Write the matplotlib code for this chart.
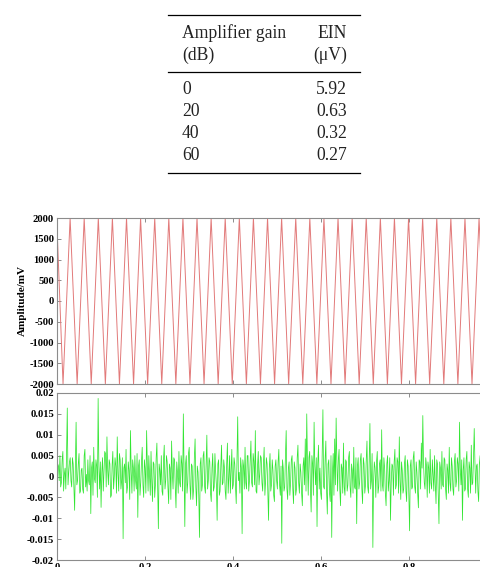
import numpy as np
import matplotlib
matplotlib.use("Agg")
import matplotlib.pyplot as plt
from matplotlib.lines import Line2D

# ---------------- data ----------------
table_header_1 = ["Amplifier gain", "EIN"]
table_header_2 = ["(dB)", "(\u03bcV)"]
gain_db = ["0", "20", "40", "60"]
ein_uv = ["5.92", "0.63", "0.32", "0.27"]

# top panel: sine reference signal, extremes (s, mV)
peak_times = [0.0298, 0.0618, 0.0939, 0.1259, 0.1580, 0.1900, 0.2221, 0.2541,
              0.2862, 0.3182, 0.3503, 0.3823, 0.4144, 0.4464, 0.4785, 0.5105,
              0.5426, 0.5746, 0.6067, 0.6387, 0.6708, 0.7028, 0.7349, 0.7669,
              0.7990, 0.8310, 0.8631, 0.8951, 0.9272, 0.9592, 0.9913]
trough_times = [0.0137, 0.0458, 0.0778, 0.1099, 0.1419, 0.1740, 0.2060, 0.2381,
                0.2701, 0.3022, 0.3342, 0.3663, 0.3983, 0.4304, 0.4624, 0.4945,
                0.5265, 0.5586, 0.5906, 0.6227, 0.6547, 0.6868, 0.7188, 0.7509,
                0.7829, 0.8150, 0.8470, 0.8791, 0.9111, 0.9432, 0.9752]
start_value = 1800.0
amplitude = 2000.0

# bottom panel: noise signal, values in units of 1e-3
# even samples
noise_milli_a = [
    -6.0, 2.5, 5.0, -1.5, 6.0, 0.5, -3.0, 16.4, 1.0, 4.5,
    -2.5, 3.0, -8.1, 13.0, -1.0, 5.5, -3.5, 2.0, -4.0, 6.5,
    0.5, 4.0, -2.0, -8.9, 3.5, 7.0, -1.5, 2.5, 18.7, -3.0,
    -7.4, 4.5, 1.0, 5.5, 9.5, -2.0, 3.0, -4.5, 6.0, 0.0,
    2.5, 9.5, -3.5, 4.0, -1.0, -14.9, 3.0, 6.5, -2.5, 1.5,
    11.0, -4.0, 2.0, 5.0, -3.0, -9.8, 4.0, -1.5, 7.0, -5.0,
    2.0, 11.0, -3.5, 0.5, 6.0, -6.0, 3.0, -2.0, 8.0, -12.5,
    1.5, 5.0, -4.5, 7.5, -1.0, 3.5, -6.5, 2.0, 8.5, -3.0,
    4.0, -7.5, 1.0, 6.0, -2.5, 3.0, 15.0, -12.0, 5.0, -1.5,
    7.0, -5.5, 2.5, -3.0, 9.0, -7.0, 1.0, -14.6, 4.5, -2.0,
    6.0, -4.0, 9.9, -1.0, 3.5, -6.0, 5.5, -2.5, 1.0, -10.5,
    4.0, -3.5, 7.5, -1.5, 2.0, -5.5, 8.0, 0.0, -4.0, 6.5,
    -2.0, 3.0, -6.5, 14.3, 1.0, 4.5, -13.7, 2.5, 7.0, -3.0,
    5.0, -1.0, 8.5, -2.5, 3.5, 11.0, -4.0, 6.0, 0.5, 4.5,
    -3.5, 7.0, -1.0, 3.0, -10.5, 5.5, -2.0, 1.5, -6.0, 4.0,
    -3.0, 6.5, -4.5, -16.0, 2.0, -2.5, 11.0, -5.5, 3.5, -1.5,
    5.0, -6.5, 2.0, -3.0, 7.5, -4.0, 1.0, -7.0, 4.5, 9.0,
    15.0, -4.5, 6.0, -8.5, 3.0, 13.0, -2.0, -12.0, 7.5, 2.0,
    -5.5, 16.0, -3.0, 8.5, -9.0, 4.0, -6.0, -14.6, 5.5, 9.0,
    14.0, -3.5, 6.5, -7.0, 2.0, 8.0, -4.5, 3.5, -2.0, 6.0,
    -5.0, 1.5, 7.0, -3.0, -11.3, 4.5, -1.5, 5.5, -6.5, 3.0,
    -2.0, 8.5, -4.0, 12.7, -1.0, -17.0, 3.5, -5.0, 6.0, -2.5,
    4.0, 11.2, -3.5, 2.0, -7.0, 5.0, -1.0, -10.5, 3.0, -4.5,
    6.5, -2.0, 3.5, 9.5, -5.5, 1.5, -3.0, 5.0, -6.0, 2.5,
    -13.0, 4.0, -2.5, 6.0, -4.0, 1.0, -7.5, 3.5, 8.0, 14.6,
    -1.5, 4.5, -5.0, 2.0, 6.5, -3.0, 0.5, 5.0, -6.5, 3.0,
    -11.3, 2.0, 6.0, -2.5, 4.0, -5.5, 1.5, 7.0, -3.5, 2.5,
    -4.5, 5.5, -1.0, 3.0, 13.0, -2.0, -10.5, 4.5, -3.0, 6.0,
    -5.0, 2.0, 7.5, -1.5, 11.5, -4.0, 3.0, -6.0, 5.0, -2.0,
    4.0, -7.0, 1.5, 6.0, -3.5, 2.5, -5.0, 4.5, -1.0, 3.0,
]
# odd samples
noise_milli_b = [
    3.0, -1.0, -2.5, 4.0, -3.5, 2.0, 5.5, -2.0, 3.5, -1.0,
    4.5, -3.0, 2.5, -2.0, 3.0, -4.0, 1.5, -3.0, 5.0, -2.5,
    -3.5, -1.0, 5.0, 2.0, -4.5, -0.5, 4.0, -5.0, 2.5, 3.5,
    1.0, -3.5, 6.0, -2.5, 1.5, 4.0, -5.0, 2.5, -3.0, 4.5,
    -4.0, 1.0, 5.5, -3.0, 4.5, 2.0, -1.5, -4.0, 3.5, -5.5,
    1.5, 4.0, -3.5, -1.0, 5.5, 2.5, -4.5, 3.5, -2.0, 4.0,
    -4.0, 2.5, 5.0, -4.5, -1.0, 3.5, -5.0, 4.5, -2.5, 3.0,
    -2.0, -3.5, 4.0, -3.0, 5.0, -2.5, 3.0, -5.5, 1.0, 4.5,
    -2.5, 3.5, -4.0, -1.5, 5.0, -3.5, 1.0, 3.0, -4.0, 5.5,
    -2.0, 3.0, -5.5, 4.5, -2.5, 2.5, -4.5, 3.0, -3.5, 5.0,
    -2.5, 3.5, -3.0, 4.5, -4.0, 2.0, -3.5, 5.5, -2.0, 3.0,
    -4.5, 2.5, -2.0, 4.0, -3.5, 3.0, -4.0, 5.0, 1.5, -3.0,
    4.5, -2.5, 3.5, -1.0, -4.0, 2.0, 4.0, -3.0, -1.5, 5.0,
    -3.5, 4.0, -1.5, 5.5, -2.0, -3.5, 2.5, -2.0, 5.0, -1.5,
    3.0, -4.5, 4.5, -3.5, 2.0, -3.5, 4.0, -4.5, 2.5, -1.0,
    3.5, -2.0, 2.5, 4.0, -3.5, 5.0, -3.0, 2.0, -4.5, 4.0,
    -3.0, 3.5, -4.5, 4.5, -1.5, 3.0, -4.0, 2.5, -2.0, -3.5,
    3.0, 4.5, -3.0, 5.0, -4.5, 2.5, 4.5, 3.0, -3.0, -4.0,
    5.5, -2.5, 4.0, -3.5, 3.0, -4.0, 5.0, 1.0, -4.5, -2.0,
    3.5, 4.0, -3.0, 3.0, -4.0, -2.5, 4.0, -3.5, 4.5, -2.5,
    3.0, -4.0, -2.5, 4.5, 2.5, -3.0, 4.0, -3.0, 4.5, -4.0,
    4.0, -2.5, 3.5, -3.0, 5.5, -1.0, 2.0, 3.5, -4.0, 3.0,
    -3.5, -2.0, 4.5, -4.0, 3.0, -3.5, 4.5, -1.5, 2.5, 3.5,
    -3.0, 4.5, -4.0, -1.0, 3.5, -4.0, 3.0, -3.5, 4.0, -4.5,
    2.5, -3.0, 4.5, -2.5, 3.5, -4.0, 4.0, -3.0, 2.0, 3.0,
    -3.0, 2.5, 3.5, -4.0, -1.5, 4.0, -3.5, -2.0, 4.0, -4.0,
    3.5, -3.0, -2.0, 4.5, -3.0, 3.0, -4.0, -1.5, 4.5, -3.0,
    3.5, -2.5, 4.5, -3.5, 2.0, 4.0, 1.5, -3.5, 4.0, -3.0,
    3.5, -4.0, -2.0, 4.5, 3.0, 2.5, -3.5, 3.0, -3.5, 4.5,
    -3.5, 3.5, -3.0, -2.0, 4.0, -3.0, 3.5, -2.5, 4.0, -1.5,
]

top_yticks = [-2000, -1500, -1000, -500, 0, 500, 1000, 1500, 2000]
bot_yticks = [-0.02, -0.015, -0.01, -0.005, 0, 0.005, 0.01, 0.015, 0.02]
bot_yticklabels = ["-0.02", "-0.015", "-0.01", "-0.005", "0", "0.005", "0.01", "0.015", "0.02"]
xticks = [0, 0.2, 0.4, 0.6, 0.8, 1.0]
xticklabels = ["0", "0.2", "0.4", "0.6", "0.8", "1"]

# ---------------- build series ----------------
ext_t = np.array([0.0] + peak_times + trough_times)
ext_v = np.array([start_value] + [amplitude] * len(peak_times) + [-amplitude] * len(trough_times))
order = np.argsort(ext_t)
sig_t, sig_v = ext_t[order], ext_v[order]

noise = np.column_stack([noise_milli_a, noise_milli_b]).ravel() * 1e-3
noise_t = np.linspace(0.0, 1.0, len(noise))

# ---------------- figure ----------------
plt.rcParams["axes.unicode_minus"] = False
W, H = 480, 567
fig = plt.figure(figsize=(W / 100, H / 100), dpi=100)

def fx(px):
    return px / W

def fy(py):
    return 1 - py / H

# table
serif = "Liberation Serif"
tcol = "#222222"
tsize = 12.7
for y in (15, 72, 173):
    fig.add_artist(Line2D([fx(168), fx(360)], [fy(y), fy(y)], color="black", lw=0.9))
fig.text(fx(182), fy(33), table_header_1[0], family=serif, size=tsize, color=tcol, ha="left", va="center")
fig.text(fx(347), fy(33), table_header_1[1], family=serif, size=tsize, color=tcol, ha="right", va="center")
fig.text(fx(182), fy(55), table_header_2[0], family=serif, size=tsize, color=tcol, ha="left", va="center")
fig.text(fx(347), fy(55), table_header_2[1], family=serif, size=tsize, color=tcol, ha="right", va="center")
row_y = [90, 112, 134, 156]
for g, e, y in zip(gain_db, ein_uv, row_y):
    fig.text(fx(182), fy(y), g, family=serif, size=tsize, color=tcol, ha="left", va="center")
    fig.text(fx(347), fy(y), e, family=serif, size=tsize, color=tcol, ha="right", va="center")

# axes (right edge extends beyond the crop, as in the reference)
left, right = 57, 497
ax1 = fig.add_axes([fx(left), fy(384), (right - left) / W, (384 - 218) / H])
ax2 = fig.add_axes([fx(left), fy(560), (right - left) / W, (560 - 393) / H])

ax1.plot(sig_t, sig_v, color="#e27a7a", lw=0.7)
ax2.plot(noise_t, noise, color="#33e633", lw=0.55)

spine_col = "#8c8c8c"
tick_font = dict(family=serif, weight="bold", size=7.6)
for ax in (ax1, ax2):
    ax.set_xlim(0, 1.0)
    ax.set_xticks(xticks)
    for s in ax.spines.values():
        s.set_color(spine_col)
        s.set_linewidth(0.8)
    ax.tick_params(direction="in", top=True, right=True, length=3, width=0.7,
                   color=spine_col, pad=2.2, labelsize=7.6)

ax1.set_ylim(-2000, 2000)
ax1.set_yticks(top_yticks)
ax1.set_yticklabels([str(v) for v in top_yticks], **tick_font)
ax1.set_xticklabels([])

ax2.set_ylim(-0.02, 0.02)
ax2.set_yticks(bot_yticks)
ax2.set_yticklabels(bot_yticklabels, **tick_font)
ax2.set_xticklabels(xticklabels, **tick_font)

ax1.set_ylabel("Amplitude/mV", family=serif, weight="bold", size=8.0)
ax1.yaxis.label.set_verticalalignment("center")
ax1.yaxis.set_label_coords((22 - left) / (right - left), 0.5)

fig.savefig("out.png", dpi=100)
